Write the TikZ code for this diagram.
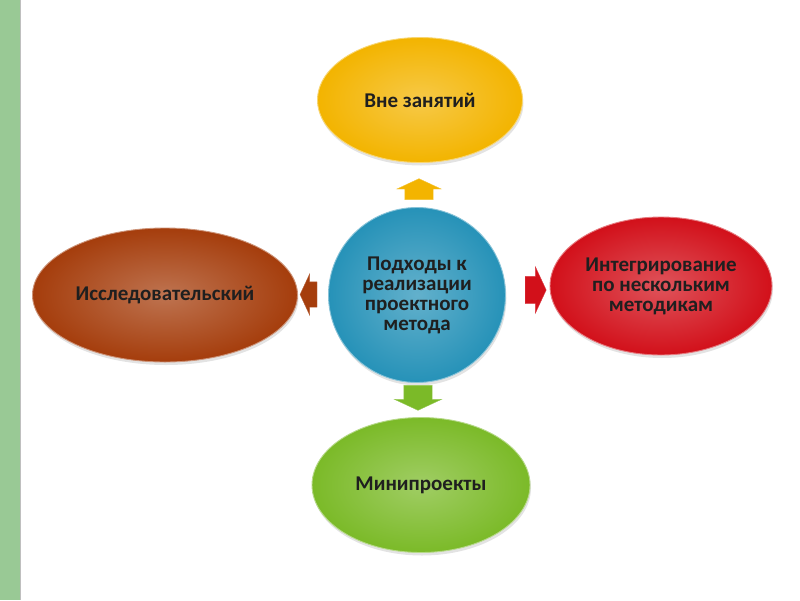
\documentclass[tikz,border=0pt]{standalone}
\usepackage{fontspec}
\setmainfont{Carlito}
\usetikzlibrary{shapes.geometric,shapes.arrows,shadows}

\definecolor{stripgreen}{HTML}{99C995}
\definecolor{topyellow}{HTML}{F3B400}
\definecolor{coreblue}{HTML}{2692B8}
\definecolor{leftbrown}{HTML}{A53D0C}
\definecolor{rightred}{HTML}{D2101A}
\definecolor{lowgreen}{HTML}{7BBA28}

\begin{document}
\begin{tikzpicture}[x=1pt,y=-1pt,
   blob/.style={ellipse, draw=#1!55!white, line width=0.9pt,
      outer color=#1, inner color=#1!72!white, text=black!88,
      font=\bfseries\fontsize{21}{20}\selectfont, align=center, inner sep=0pt,
      drop shadow={opacity=0.22, shadow xshift=1pt, shadow yshift=-3pt}},
   arr/.style={single arrow, fill=#1, draw=#1!80!white,
      single arrow tip angle=130, single arrow head extend=8pt},
   harr/.style={arr=#1, inner xsep=0pt, inner ysep=14pt},
   varr/.style={arr=#1, inner xsep=14pt, inner ysep=0pt}]
   \useasboundingbox (0,0) rectangle (800,600);
   \fill[stripgreen] (0,0) rectangle (20,600);
   \draw[black!25, line width=0.6pt] (20.5,0) -- (20.5,600);

   \node[blob=coreblue, minimum width=177, minimum height=175] (core) at (417,295)
      {Подходы к\\реализации\\проектного\\метода};
   \node[blob=topyellow, minimum width=205, minimum height=125] (top) at (420,100)
      {Вне занятий};
   \node[blob=leftbrown, minimum width=265, minimum height=134] (left) at (165,295)
      {Исследовательский};
   \node[blob=rightred, minimum width=222, minimum height=138] (right) at (661,286)
      {Интегрирование\\по нескольким\\методикам};
   \node[blob=lowgreen, minimum width=218, minimum height=135] (low) at (421,485)
      {Минипроекты};

   \node[varr=topyellow, shape border rotate=90, minimum height=21] (toup) at (419,192.5) {};
   \node[harr=leftbrown, shape border rotate=180, minimum height=17, inner ysep=12.5pt] (toleft) at (311.5,294.5) {};
   \node[harr=rightred, shape border rotate=0, minimum height=21, inner ysep=13.5pt,
      single arrow head extend=9.5pt] (toright) at (532.5,290) {};
   \node[varr=lowgreen, shape border rotate=270, minimum height=25,
      single arrow head extend=9.5pt] (todown) at (418,394.5) {};
\end{tikzpicture}
\end{document}
